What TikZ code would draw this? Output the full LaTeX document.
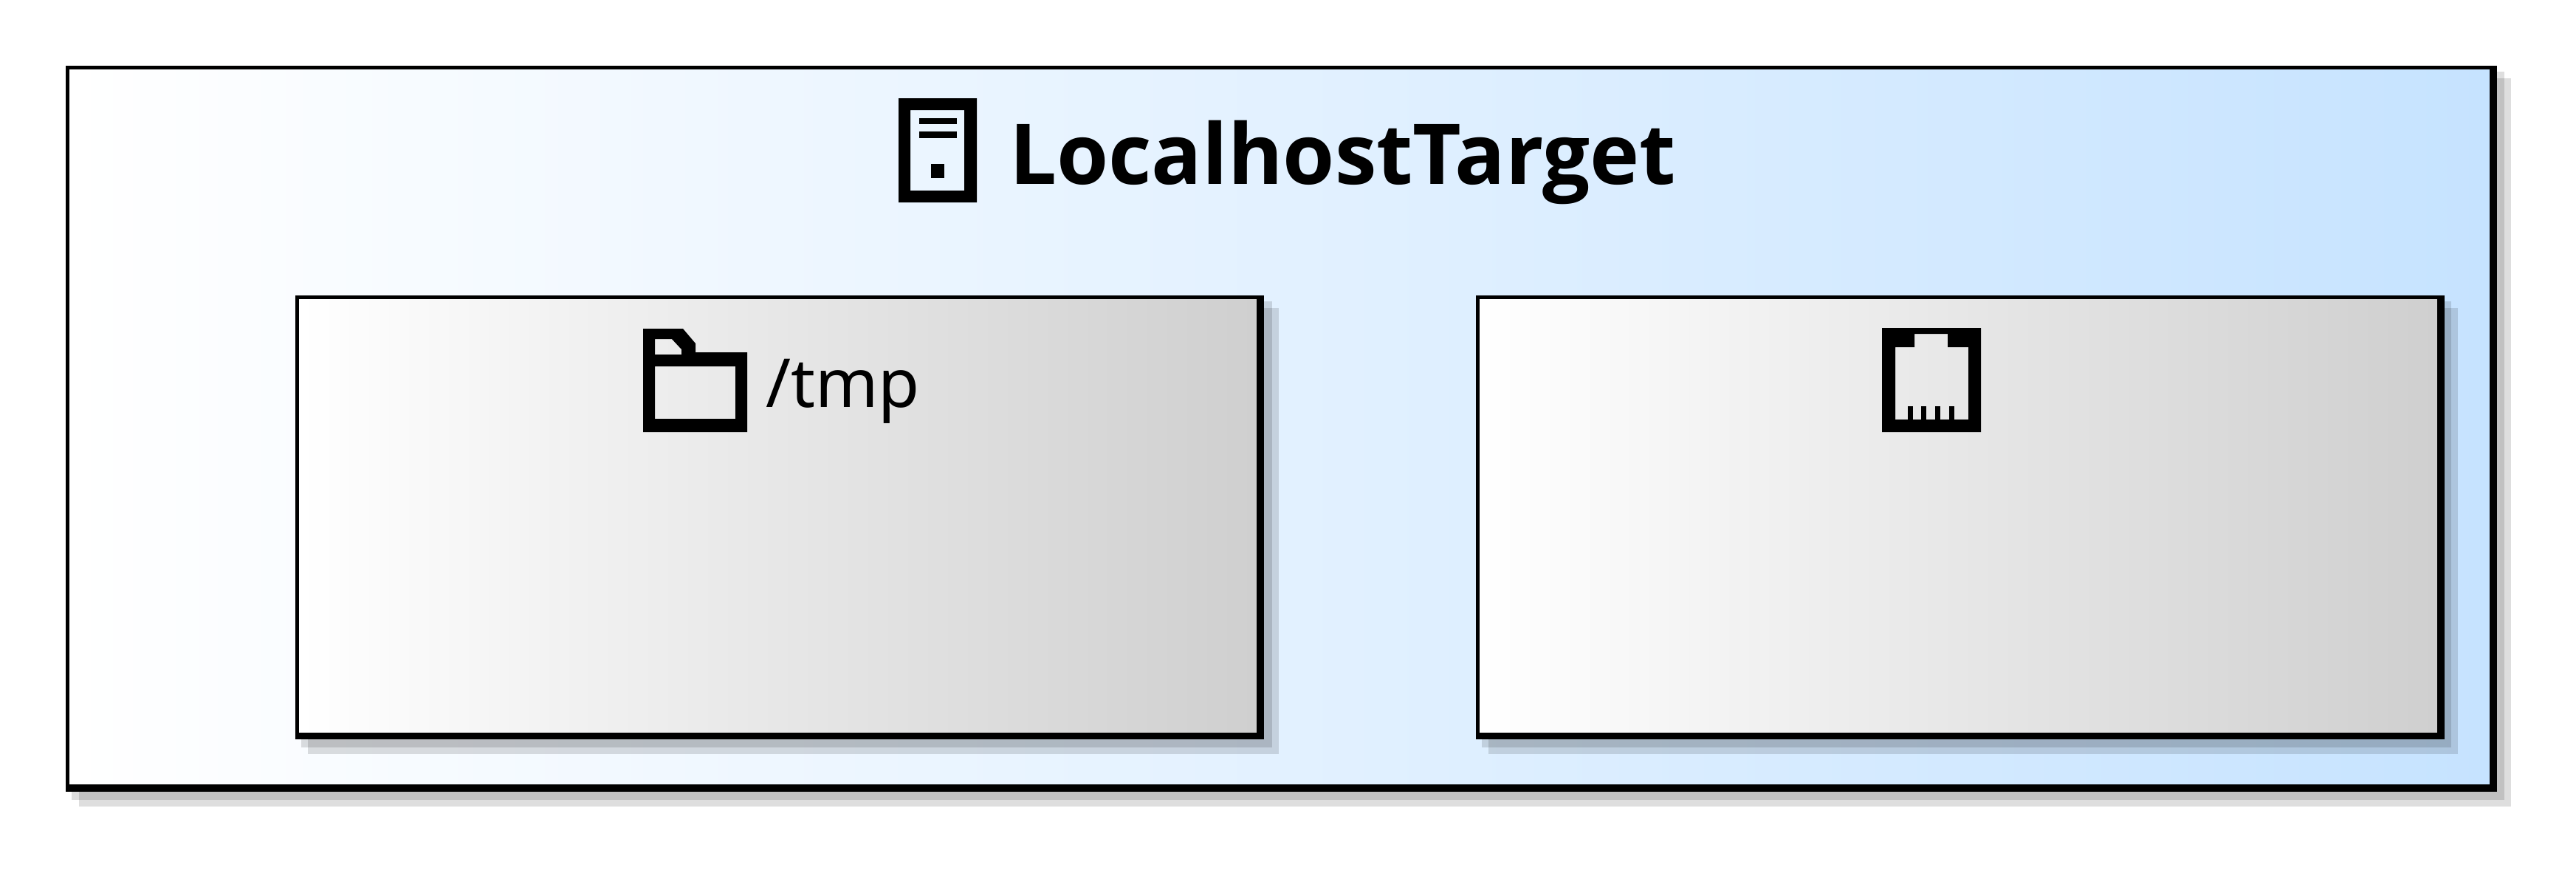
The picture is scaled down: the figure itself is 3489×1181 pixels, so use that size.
\documentclass[tikz,border=0pt]{standalone}
\usepackage{fontspec}
\setmainfont{Noto Sans}
\newfontfamily\titlefont{Open Sans}
\usepackage{xcolor}
\usetikzlibrary{positioning}
\definecolor{targetblue}{HTML}{C6E3FF}
\definecolor{boxgray}{HTML}{CFCFCF}
\tikzset{
  frame/.style={rectangle, fill=black, inner sep=0pt, outer sep=0pt},
  panel/.style={rectangle, left color=white, inner sep=0pt, outer sep=0pt},
  shadowfill/.style={fill=black, fill opacity=0.13},
  icon/.style={fill=black, even odd rule},
  titletext/.style={inner sep=0pt, outer sep=0pt, anchor=base west,
                    font=\fontsize{32.3pt}{38pt}\titlefont\bfseries},
  pathtext/.style={inner sep=0pt, outer sep=0pt, anchor=base west,
                   font=\fontsize{26pt}{32pt}\selectfont},
}
\begin{document}
\begin{tikzpicture}[x=0.01cm, y=-0.01cm]
    \useasboundingbox (0,0) rectangle (3489,1181);
    % shadows
    \fill[shadowfill] (97,97) rectangle (3392,1083);
    \fill[shadowfill] (107,106) rectangle (3401,1092);
    % target
    \node[frame, anchor=north west, minimum width=32.91cm, minimum height=9.82cm] (target) at (89,89) {};
    \node[panel, right color=targetblue, anchor=north west, minimum width=32.76cm, minimum height=9.67cm]
          (targetpanel) at (94,94) {};
    \fill[shadowfill] (408,408) rectangle (1723,1012);
    \fill[shadowfill] (417,417) rectangle (1732,1021);
    \fill[shadowfill] (2007,408) rectangle (3320,1012);
    \fill[shadowfill] (2016,417) rectangle (3329,1021);
    % boxes
    \node[frame, minimum width=13.11cm, minimum height=6.00cm, below right=3.11cm and 3.11cm of target.north west] (tmp) {};
    \node[panel, right color=boxgray, minimum width=12.96cm, minimum height=5.86cm, below right=0.05cm and 0.05cm of tmp.north west] (tmppanel) {};
    \node[frame, minimum width=13.11cm, minimum height=6.00cm, right=2.87cm of tmp] (port) {};
    \node[panel, right color=boxgray, minimum width=12.96cm, minimum height=5.86cm, below right=0.05cm and 0.05cm of port.north west] (portpanel) {};
    % labels
    \node[titletext] (title) at (1367,249) {LocalhostTarget};
    \node[pathtext] (tmplabel) at (1037,551) {/tmp};
    % server icon
    \fill[icon] (1217,133) rectangle (1323,274) (1233,149) rectangle (1306,258);
    \fill (1245,160) rectangle (1296,168);
    \fill (1245,178) rectangle (1296,187);
    \fill (1261,222) rectangle (1279,241);
    % folder icon
    \fill[icon] (871,445) -- (925,445) -- (942,465) -- (942,477) -- (1012,477) -- (1012,585) -- (871,585) -- cycle
          (887,496) rectangle (996,567)
          (887,459) -- (910,459) -- (923,473) -- (923,480) -- (887,480) -- cycle;
    % port icon
    \fill[icon] (2549,444) rectangle (2683,585)
          (2593,452) -- (2638,452) -- (2638,470) -- (2666,470) -- (2666,568) -- (2567,568) -- (2567,470) -- (2593,470) -- cycle;
    \fill (2584,550) rectangle (2591,568);
    \fill (2602,550) rectangle (2609,568);
    \fill (2621,550) rectangle (2628,568);
    \fill (2640,550) rectangle (2647,568);
\end{tikzpicture}
\end{document}
